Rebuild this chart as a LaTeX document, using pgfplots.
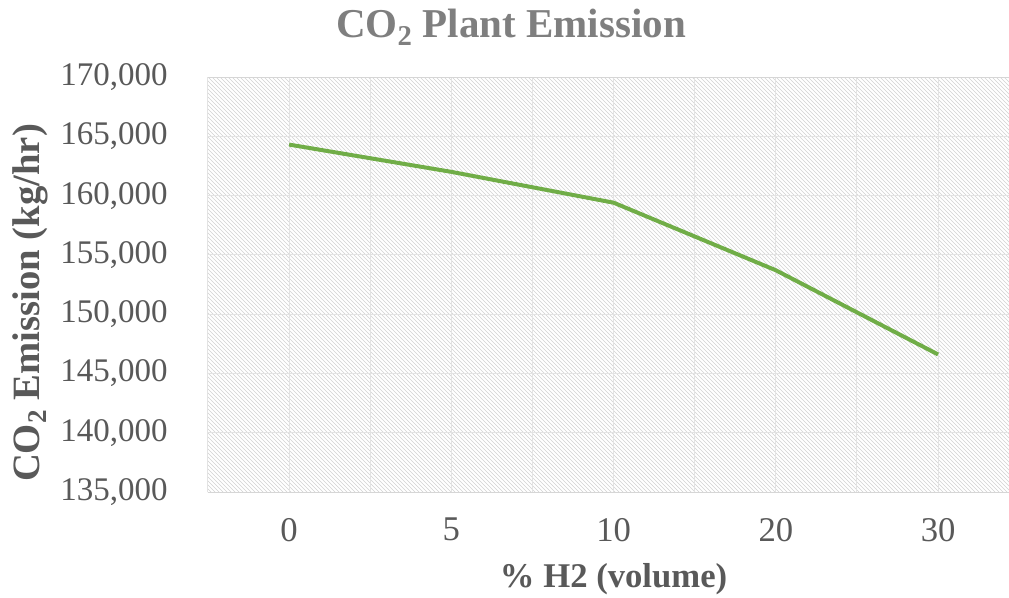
\documentclass[border=0pt]{standalone}
\usepackage{pgfplots}
\pgfplotsset{compat=1.18}
\usepackage{fontspec}
\setmainfont{Liberation Serif}
\usetikzlibrary{patterns}
\definecolor{linegreen}{HTML}{70AD47}
\definecolor{txt}{HTML}{595959}
\definecolor{ttl}{HTML}{7F7F7F}
\begin{document}
\begin{tikzpicture}
\path[use as bounding box] (-156pt,-78.75pt) rectangle (600.75pt,369pt);
\begin{axis}[
  at={(0,0)}, anchor=south west,
  scale only axis, width=600.75pt, height=311.25pt,
  xmin=-0.5, xmax=4.437,
  ymin=135000, ymax=170000,
  xtick={0,1,2,3,4},
  xticklabels={0,5,10,20,30},
  minor xtick={-0.5,0.5,1.5,2.5,3.5},
  ytick={135000,140000,145000,150000,155000,160000,165000,170000},
  yticklabels={{135,000},{140,000},{145,000},{150,000},{155,000},{160,000},{165,000},{170,000}},
  scaled y ticks=false,
  xmajorgrids, xminorgrids, ymajorgrids,
  grid style={draw=gray!22, line width=0.75pt},
  minor grid style={draw=gray!22, line width=0.75pt},
  major tick length=0pt, minor tick length=0pt,
  separate axis lines,
  x axis line style={draw=gray!32, line width=0.75pt},
  y axis line style={draw=none},
  axis background/.style={pattern=north west lines, pattern color=gray!35},
  yticklabel style={anchor=east, inner sep=0pt, xshift=-30pt, text=txt, font=\fontsize{24.75}{28}\selectfont},
  xticklabel style={anchor=north, inner sep=0pt, yshift=-19.5pt, text=txt, font=\fontsize{26}{30}\selectfont},
  xlabel={\% H2 (volume)},
  xlabel style={at={(axis cs:2,135000)}, anchor=base, yshift=-71.25pt, inner sep=0pt, text=txt, font=\bfseries\fontsize{26}{30}\selectfont},
  ylabel={CO\textsubscript{2} Emission (kg/hr)},
  ylabel style={at={([xshift=-126pt]axis description cs:0,0.4554)}, anchor=base, inner sep=0pt, text=txt, font=\bfseries\fontsize{29}{33}\selectfont},
]
\addplot[color=linegreen, line width=3pt, line join=round] coordinates {
  (0,164300) (1,162000) (2,159400) (3,153700) (4,146600)
};
\end{axis}
\node[anchor=base, inner sep=0pt, text=ttl, font=\bfseries\fontsize{30.75}{34}\selectfont] at (227.25pt,340.5pt) {CO\textsubscript{2} Plant Emission};
\end{tikzpicture}
\end{document}
